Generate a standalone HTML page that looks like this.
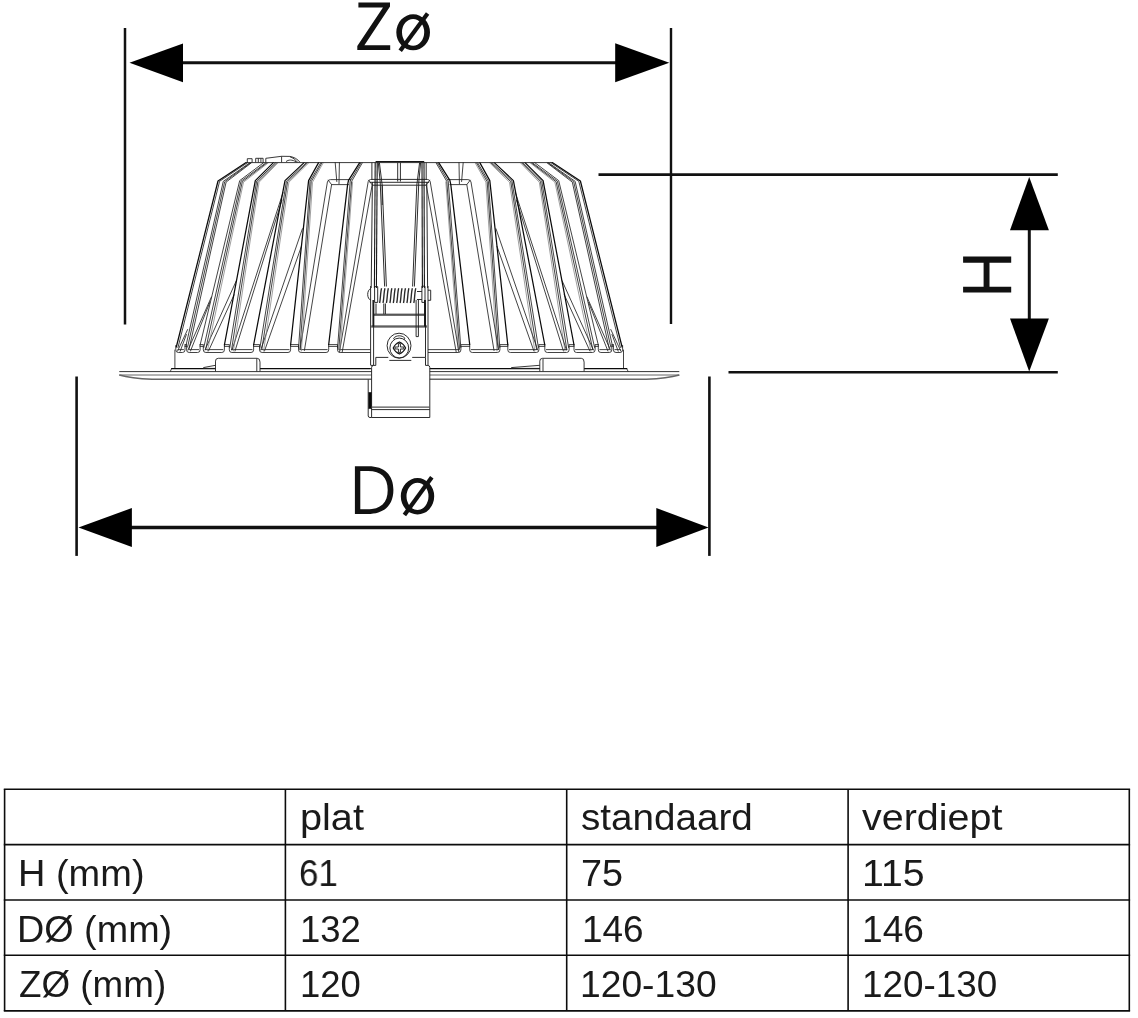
<!DOCTYPE html>
<html><head><meta charset="utf-8"><title>Afmetingen</title>
<style>
html,body{margin:0;padding:0;background:#fff;}
body{width:1138px;height:1018px;position:relative;overflow:hidden;font-family:"Liberation Sans",sans-serif;}
svg{position:absolute;left:0;top:0;}
.t{will-change:transform;position:absolute;font-size:36px;line-height:40px;height:40px;color:#1a1a1a;white-space:pre;transform-origin:0 0;}
</style></head><body>
<svg width="1138" height="1018" viewBox="0 0 1138 1018">
<rect width="1138" height="1018" fill="#fff"/>
<g id="flange" fill="none" stroke="#555" stroke-width="1.0">
<path d="M119.3,371.6 L679.3,371.6" stroke="#333" stroke-width="1.0"/>
<path d="M119.3,375.0 L679.3,375.0" stroke="#666" stroke-width="1.0"/>
<path d="M119.3,375.0 C126,377 134,378.6 152,379.3 L646.4,379.3 C664.4,378.6 672.4,377 679.3,375.0" stroke="#666" stroke-width="1.5"/>
</g>
<g id="lh" fill="none" stroke="#222" stroke-width="0.85" stroke-linejoin="round" stroke-linecap="round">
<path d="M247.6,162.6 L219.6,181.3 L178.0,347.5"/>
<path d="M249.6,162.9 L223.3,181.3 L186.0,345.5"/>
<path d="M250.4,162.9 L224.7,181.7 L187.6,347.0"/>
<path d="M251.3,162.9 L226.1,182.1 L189.2,348.5"/>
<path d="M263.7,162.6 L239.7,180.6 L200.1,345.0"/>
<path d="M265.8,162.9 L241.0,181.2 L203.8,347.5"/>
<path d="M267.0,162.9 L242.3,181.7 L205.6,349.5"/>
<path d="M275.4,162.9 L256.6,181.2 L229.8,347.5"/>
<path d="M276.7,162.9 L257.9,181.7 L231.6,349.5"/>
<path d="M306.2,162.9 L286.4,181.2 L260.0,347.5"/>
<path d="M307.4,162.9 L287.6,181.7 L261.8,349.5"/>
<path d="M320.7,162.9 L310.0,181.2 L298.6,347.5"/>
<path d="M321.9,162.9 L311.2,181.7 L300.0,349.5"/>
<path d="M361.0,162.9 L350.2,181.0 L337.6,347.5"/>
<path d="M362.3,162.9 L351.6,181.4 L338.8,349.5"/>
<path d="M187.6,329.5 L177.6,351.0"/>
<path d="M186.4,334.5 L180.2,351.2"/>
<path d="M211.4,297.0 L188.0,350.0"/>
<path d="M209.8,302.4 L190.5,351.0"/>
<path d="M236.3,280.8 L205.0,350.0"/>
<path d="M234.1,294.8 L208.5,351.0"/>
<path d="M283.0,192.7 L232.0,350.0"/>
<path d="M282.0,200.0 L235.0,351.0"/>
<path d="M302.4,228.8 L260.7,350.0"/>
<path d="M301.4,246.4 L264.5,351.0"/>
<path d="M350.6,179.6 L330.5,179.6 Q328.0,179.6 327.4,182.0 L300.0,349.5"/>
<path d="M348.5,184.6 L331.6,184.6 L304.4,350.5"/>
<path d="M328.2,180.2 L331.6,184.6"/>
<path d="M335.2,162.6 L336.8,181.5"/>
<path d="M339.4,162.6 L339.0,183.8"/>
<path d="M371.9,179.5 L370.6,179.5 Q368.6,179.8 368.2,181.6 L339.5,352.0"/>
<path d="M372.2,184.8 L342.2,352.0"/>
<path d="M368.6,180.2 L372.2,184.8"/>
<path d="M175.8,345.5 L175.8,349.9 Q175.8,352.5 178.4,352.5 L182.4,352.5 Q185.0,352.5 185.0,349.9 L185.0,345.0"/>
<path d="M178.0,349.6 L183.5,349.6"/>
<path d="M186.6,345.5 L186.6,349.9 Q186.6,352.5 189.2,352.5 L197.5,352.5 Q200.1,352.5 200.1,349.9 L200.1,345.0"/>
<path d="M188.8,349.6 L198.6,349.6"/>
<path d="M203.3,345.5 L203.3,349.9 Q203.3,352.5 205.9,352.5 L221.8,352.5 Q224.4,352.5 224.4,349.9 L224.4,345.0"/>
<path d="M205.5,349.6 L222.9,349.6"/>
<path d="M229.3,345.5 L229.3,349.9 Q229.3,352.5 231.9,352.5 L251.0,352.5 Q253.6,352.5 253.6,349.9 L253.6,345.0"/>
<path d="M231.5,349.6 L252.1,349.6"/>
<path d="M259.5,345.5 L259.5,349.9 Q259.5,352.5 262.1,352.5 L288.0,352.5 Q290.6,352.5 290.6,349.9 L290.6,345.0"/>
<path d="M261.7,349.6 L289.1,349.6"/>
<path d="M298.5,345.5 L298.5,349.9 Q298.5,352.5 301.1,352.5 L326.1,352.5 Q328.7,352.5 328.7,349.9 L328.7,345.0"/>
<path d="M300.7,349.6 L327.2,349.6"/>
<path d="M337.5,345.5 L337.5,349.9 Q337.5,352.5 340.1,352.5 L370.4,352.5"/>
<path d="M339.7,349.6 L370.4,349.6"/>
<path d="M185.0,344.6 L186.6,344.6"/>
<path d="M185.0,346.4 L186.6,346.4"/>
<path d="M200.1,344.6 L203.3,344.6"/>
<path d="M200.1,346.4 L203.3,346.4"/>
<path d="M224.4,344.6 L229.3,344.6"/>
<path d="M224.4,346.4 L229.3,346.4"/>
<path d="M253.6,344.6 L259.5,344.6"/>
<path d="M253.6,346.4 L259.5,346.4"/>
<path d="M290.6,344.6 L298.5,344.6"/>
<path d="M290.6,346.4 L298.5,346.4"/>
<path d="M328.7,344.6 L337.5,344.6"/>
<path d="M328.7,346.4 L337.5,346.4"/>
<path d="M174.9,350.0 L174.9,368.4"/>
<path d="M170.3,371.4 L171.7,368.5"/>
</g>
<g fill="none" stroke="#777" stroke-width="0.7" stroke-linecap="round">
<path d="M268.2,162.9 L243.5,182.2 L207.4,351.0"/>
<path d="M277.9,162.9 L259.1,182.2 L233.4,351.0"/>
<path d="M308.7,162.9 L288.9,182.2 L263.6,351.0"/>
<path d="M323.2,162.9 L312.5,182.2 L301.4,351.0"/>
<path d="M352.6,181.8 L340.0,351.0"/>
</g>
<g transform="translate(798.4,0) scale(-1,1)" fill="none" stroke="#777" stroke-width="0.7" stroke-linecap="round">
<path d="M268.2,162.9 L243.5,182.2 L207.4,351.0"/>
<path d="M277.9,162.9 L259.1,182.2 L233.4,351.0"/>
<path d="M308.7,162.9 L288.9,182.2 L263.6,351.0"/>
<path d="M323.2,162.9 L312.5,182.2 L301.4,351.0"/>
<path d="M352.6,181.8 L340.0,351.0"/>
</g>
<g id="lhd" fill="none" stroke="#0a0a0a" stroke-width="1.25" stroke-linejoin="round" stroke-linecap="round">
<path d="M246.1,162.6 L218.0,181.0 L176.3,347.0"/>
<path d="M273.4,162.6 L255.3,180.6 L224.4,345.0"/>
<path d="M304.1,162.6 L285.0,180.6 L253.6,345.0"/>
<path d="M318.6,162.6 L308.6,180.6 L290.6,345.0"/>
<path d="M359.7,162.6 L348.5,180.4 L347.6,184.6 L328.7,344.5"/>
<path d="M171.7,368.5 L370.4,368.5"/>
</g>
<g id="rh" transform="translate(798.4,0) scale(-1,1)" fill="none" stroke="#222" stroke-width="0.85" stroke-linejoin="round" stroke-linecap="round">
<path d="M247.6,162.6 L219.6,181.3 L178.0,347.5"/>
<path d="M249.6,162.9 L223.3,181.3 L186.0,345.5"/>
<path d="M250.4,162.9 L224.7,181.7 L187.6,347.0"/>
<path d="M251.3,162.9 L226.1,182.1 L189.2,348.5"/>
<path d="M263.7,162.6 L239.7,180.6 L200.1,345.0"/>
<path d="M265.8,162.9 L241.0,181.2 L203.8,347.5"/>
<path d="M267.0,162.9 L242.3,181.7 L205.6,349.5"/>
<path d="M275.4,162.9 L256.6,181.2 L229.8,347.5"/>
<path d="M276.7,162.9 L257.9,181.7 L231.6,349.5"/>
<path d="M306.2,162.9 L286.4,181.2 L260.0,347.5"/>
<path d="M307.4,162.9 L287.6,181.7 L261.8,349.5"/>
<path d="M320.7,162.9 L310.0,181.2 L298.6,347.5"/>
<path d="M321.9,162.9 L311.2,181.7 L300.0,349.5"/>
<path d="M361.0,162.9 L350.2,181.0 L337.6,347.5"/>
<path d="M362.3,162.9 L351.6,181.4 L338.8,349.5"/>
<path d="M187.6,329.5 L177.6,351.0"/>
<path d="M186.4,334.5 L180.2,351.2"/>
<path d="M211.4,297.0 L188.0,350.0"/>
<path d="M209.8,302.4 L190.5,351.0"/>
<path d="M236.3,280.8 L205.0,350.0"/>
<path d="M234.1,294.8 L208.5,351.0"/>
<path d="M283.0,192.7 L232.0,350.0"/>
<path d="M282.0,200.0 L235.0,351.0"/>
<path d="M302.4,228.8 L260.7,350.0"/>
<path d="M301.4,246.4 L264.5,351.0"/>
<path d="M350.6,179.6 L330.5,179.6 Q328.0,179.6 327.4,182.0 L300.0,349.5"/>
<path d="M348.5,184.6 L331.6,184.6 L304.4,350.5"/>
<path d="M328.2,180.2 L331.6,184.6"/>
<path d="M335.2,162.6 L336.8,181.5"/>
<path d="M339.4,162.6 L339.0,183.8"/>
<path d="M371.9,179.5 L370.6,179.5 Q368.6,179.8 368.2,181.6 L339.5,352.0"/>
<path d="M372.2,184.8 L342.2,352.0"/>
<path d="M368.6,180.2 L372.2,184.8"/>
<path d="M175.8,345.5 L175.8,349.9 Q175.8,352.5 178.4,352.5 L182.4,352.5 Q185.0,352.5 185.0,349.9 L185.0,345.0"/>
<path d="M178.0,349.6 L183.5,349.6"/>
<path d="M186.6,345.5 L186.6,349.9 Q186.6,352.5 189.2,352.5 L197.5,352.5 Q200.1,352.5 200.1,349.9 L200.1,345.0"/>
<path d="M188.8,349.6 L198.6,349.6"/>
<path d="M203.3,345.5 L203.3,349.9 Q203.3,352.5 205.9,352.5 L221.8,352.5 Q224.4,352.5 224.4,349.9 L224.4,345.0"/>
<path d="M205.5,349.6 L222.9,349.6"/>
<path d="M229.3,345.5 L229.3,349.9 Q229.3,352.5 231.9,352.5 L251.0,352.5 Q253.6,352.5 253.6,349.9 L253.6,345.0"/>
<path d="M231.5,349.6 L252.1,349.6"/>
<path d="M259.5,345.5 L259.5,349.9 Q259.5,352.5 262.1,352.5 L288.0,352.5 Q290.6,352.5 290.6,349.9 L290.6,345.0"/>
<path d="M261.7,349.6 L289.1,349.6"/>
<path d="M298.5,345.5 L298.5,349.9 Q298.5,352.5 301.1,352.5 L326.1,352.5 Q328.7,352.5 328.7,349.9 L328.7,345.0"/>
<path d="M300.7,349.6 L327.2,349.6"/>
<path d="M337.5,345.5 L337.5,349.9 Q337.5,352.5 340.1,352.5 L370.4,352.5"/>
<path d="M339.7,349.6 L370.4,349.6"/>
<path d="M185.0,344.6 L186.6,344.6"/>
<path d="M185.0,346.4 L186.6,346.4"/>
<path d="M200.1,344.6 L203.3,344.6"/>
<path d="M200.1,346.4 L203.3,346.4"/>
<path d="M224.4,344.6 L229.3,344.6"/>
<path d="M224.4,346.4 L229.3,346.4"/>
<path d="M253.6,344.6 L259.5,344.6"/>
<path d="M253.6,346.4 L259.5,346.4"/>
<path d="M290.6,344.6 L298.5,344.6"/>
<path d="M290.6,346.4 L298.5,346.4"/>
<path d="M328.7,344.6 L337.5,344.6"/>
<path d="M328.7,346.4 L337.5,346.4"/>
<path d="M174.9,350.0 L174.9,368.4"/>
<path d="M170.3,371.4 L171.7,368.5"/>
</g>
<g id="rhd" transform="translate(798.4,0) scale(-1,1)" fill="none" stroke="#0a0a0a" stroke-width="1.25" stroke-linejoin="round" stroke-linecap="round">
<path d="M246.1,162.6 L218.0,181.0 L176.3,347.0"/>
<path d="M273.4,162.6 L255.3,180.6 L224.4,345.0"/>
<path d="M304.1,162.6 L285.0,180.6 L253.6,345.0"/>
<path d="M318.6,162.6 L308.6,180.6 L290.6,345.0"/>
<path d="M359.7,162.6 L348.5,180.4 L347.6,184.6 L328.7,344.5"/>
<path d="M171.7,368.5 L370.4,368.5"/>
</g>
<path d="M215.5,371.0 L215.5,361.1 Q215.5,358.3 218.3,358.3 L257.2,358.3 Q260.0,358.3 260.0,362.1 L260.0,371.0 Z M539.8,371.0 L539.8,361.1 Q539.8,358.3 542.6,358.3 L581.3,358.3 Q584.1,358.3 584.1,362.1 L584.1,371.0 Z" fill="#fff" stroke="none"/>
<g id="misc" fill="none" stroke="#222" stroke-width="0.9" stroke-linejoin="round">
<path d="M246.1,162.6 L552.3,162.6"/>
<path d="M215.5,371.4 L215.5,361.1 Q215.5,358.3 218.3,358.3 L257.2,358.3 Q260.0,358.3 260.0,362.1 L260.0,371.4"/>
<path d="M256.8,358.6 L256.8,371.4"/>
<path d="M203.3,367.6 L215.5,365.3"/>
<path d="M203.3,368.4 L215.5,368.4"/>
<path d="M539.8,371.4 L539.8,361.1 Q539.8,358.3 542.6,358.3 L581.3,358.3 Q584.1,358.3 584.1,362.1 L584.1,371.4"/>
<path d="M543.0,358.6 L543.0,371.4"/>
<path d="M511.2,367.6 L539.8,365.3"/>
<path d="M511.2,368.4 L539.8,368.4"/>
<path d="M247.3,162.3 L247.3,158.7 L252.1,158.7 L252.1,162.3"/>
<path d="M255.7,162.3 L255.7,158.3 L263.1,158.3 L263.1,162.3 M258.3,158.3 L258.3,162.3 M260.9,158.3 L260.9,162.3"/>
<path d="M265.8,162.3 L265.8,158.3 L281.6,156.3 L289.6,156.4 C294,157 297.5,159 300.0,162.3 M281.6,156.3 L281.6,162.3"/>
<path d="M286,161.6 C288.5,159.6 292,159.4 296.5,162.0 M289.6,156.6 C293,157.8 295.5,159.6 297.6,162.3"/>
</g>
<g id="clipbg"><path d="M371.6,365.4 H429.8 V417.5 H371.6 Z" fill="#fff"/><path d="M370.6,286 H428.0 V365.1 H370.6 Z" fill="#fff"/></g>
<g id="centre" fill="none" stroke="#222" stroke-width="0.95" stroke-linejoin="round">
<path d="M371.9,162.6 L371.9,179.5"/>
<path d="M426.2,162.6 L426.2,179.5"/>
<path d="M371.9,179.4 L426.8,179.4"/>
<path d="M369.6,182.3 L429.0,182.3"/>
<path d="M372.2,185.2 L426.4,185.2"/>
<path d="M397.7,162.6 L397.7,181.5"/>
<path d="M400.4,162.6 L400.4,181.5"/>
<path d="M372.4,182.0 L371.2,288.0"/>
<path d="M378.3,162.6 L380.2,182.0 L384.6,286.5"/>
<path d="M379.4,162.6 L382.2,185.2 L386.4,286.5"/>
<path d="M382.2,185.2 L382.2,205.0"/>
<path d="M426.8,182.0 L427.6,288.0"/>
<path d="M420.6,162.6 L418.8,182.0 L414.4,286.5"/>
<path d="M419.6,162.6 L416.8,185.2 L412.6,286.5"/>
<path d="M370.6,286.0 L370.6,365.1"/>
<path d="M428.0,286.0 L428.0,365.1"/>
<path d="M373.6,303.0 L373.6,365.1"/>
<path d="M425.5,303.0 L425.5,357.3"/>
<path d="M373.6,314.2 L425.5,314.2"/>
<path d="M373.6,315.2 L425.5,315.2"/>
<path d="M371.2,326.0 L427.0,326.0"/>
<path d="M371.2,327.0 L427.0,327.0"/>
<path d="M376.0,303.5 L376.0,314.2"/>
<path d="M383.8,303.5 L383.8,314.2"/>
<path d="M385.4,303.5 L385.4,314.2"/>
<path d="M416.1,299.9 L416.1,336.6 L418.4,336.6 L418.4,299.9"/>
<path d="M373.6,365.4 L375.8,365.4 L375.8,357.4 L388.3,357.4"/>
<path d="M412.2,357.4 L425.5,357.4 L425.5,365.4"/>
<path d="M389.3,360.4 L411.3,360.4"/>
<path d="M371.0,288.6 C366.6,289.6 366.6,299.2 371.0,300.2"/>
<path d="M428.0,290.2 L430.7,290.2 L430.7,300.3 L428.0,300.3"/>
<path d="M374.6,286.6 L377.7,286.6 L377.7,302.4 L374.6,302.4 Z"/>
<path d="M421.9,286.2 L425.0,286.2 L425.0,302.4 L421.9,302.4 Z"/>
<path d="M417.0,291.5 L421.9,291.5"/>
<path d="M417.0,299.5 L421.9,299.5"/>
<path d="M399.05,345.7 m-11.95,0 a11.95,12.5 0 1,0 23.9,0 a11.95,12.5 0 1,0 -23.9,0"/>
<path d="M399.3,348.0 m-9.4,0 a9.4,9.9 0 1,0 18.8,0 a9.4,9.9 0 1,0 -18.8,0"/>
<path d="M393.6,338.2 C396.5,335.0 402.0,335.0 404.9,338.2"/>
<path d="M393.6,338.2 L394.8,340.0 M404.9,338.2 L403.8,340.0"/>
<path d="M398.4,343.6 L400.4,343.6 L400.4,347.0 L403.8,347.0 L403.8,349.0 L400.4,349.0 L400.4,352.4 L398.4,352.4 L398.4,349.0 L395.0,349.0 L395.0,347.0 L398.4,347.0 Z"/>
<path d="M373.6,365.4 Q371.6,365.6 371.6,367.4 L371.6,417.5 L429.8,417.5 L429.8,367.4 Q429.8,365.6 428.0,365.4"/>
<path d="M371.6,409.6 L429.8,409.6"/>
<path d="M368.2,379.5 L368.2,416.0 Q368.4,417.5 370.0,417.5 L371.6,417.5"/>
<path d="M370.6,365.4 L373.6,365.4"/>
<path d="M425.5,365.4 L428.0,365.4"/>
</g>
<g id="centred" fill="none" stroke="#151515" stroke-width="1.1">
<path d="M375.6,161.6 L424.2,161.6"/>
<path d="M375.2,162.6 L374.4,288.0"/>
<path d="M377.2,162.6 L376.4,288.0"/>
<path d="M424.0,162.6 L424.4,288.0"/>
<path d="M422.0,162.6 L422.4,288.0"/>
<path d="M373.0,299.9 L373.0,326.4"/>
<path d="M373.7,299.9 L373.7,326.4"/>
<path d="M424.6,299.9 L424.6,326.4"/>
<path d="M425.3,299.9 L425.3,326.4"/>
<path d="M399.4,341.9 C402.0,343.0 404.4,345.4 405.6,348.0 C404.4,350.6 402.0,353.0 399.4,354.1 C396.8,353.0 394.4,350.6 393.2,348.0 C394.4,345.4 396.8,343.0 399.4,341.9 Z"/>
<path d="M368.4,392.2 H371.6 V408.8 H368.4 Z" fill="#0a0a0a" stroke="none"/>
<path d="M371.6,407.2 H429.8" stroke="#555" stroke-width="1.2"/>
<path d="M381.6,288.2 C380.4,292 380.6,299 379.6,303.0 M385.0,288.2 C383.8,292 384.0,299 383.0,303.0 M388.4,288.2 C387.2,292 387.4,299 386.4,303.0 M391.9,288.2 C390.7,292 390.9,299 389.9,303.0 M395.3,288.2 C394.1,292 394.3,299 393.3,303.0 M398.7,288.2 C397.5,292 397.7,299 396.7,303.0 M402.1,288.2 C400.9,292 401.1,299 400.1,303.0 M405.5,288.2 C404.3,292 404.5,299 403.5,303.0 M408.9,288.2 C407.7,292 407.9,299 406.9,303.0 M412.4,288.2 C411.2,292 411.4,299 410.4,303.0 M415.8,288.2 C414.6,292 414.8,299 413.8,303.0" stroke-width="1.35" stroke="#2a2a2a"/>
</g>

<g stroke="#111" fill="none">
<path d="M125.0,28.1 V324.5" stroke-width="2.5"/>
<path d="M671.0,28.1 V324.0" stroke-width="2.4"/>
<path d="M180,62.7 H618" stroke-width="3.1"/>
<path d="M76.6,376.5 V555.9" stroke-width="2.6"/>
<path d="M709.4,376.5 V555.9" stroke-width="2.6"/>
<path d="M130,527.5 H658" stroke-width="3.3"/>
<path d="M598.5,174.6 H1057.8" stroke-width="2.6"/>
<path d="M728.5,372.3 H1057.8" stroke-width="2.6"/>
<path d="M1029.3,228 V320" stroke-width="3.0"/>
</g>
<g fill="#000">
<path d="M129.5,62.7 L183,43.4 L183,82.2 Z"/>
<path d="M669.3,62.7 L615.2,43.2 L615.2,82.2 Z"/>
<path d="M78.5,527.4 L131.9,508 L131.9,547 Z"/>
<path d="M708.5,527.4 L656.3,508 L656.3,547 Z"/>
<path d="M1029.2,177.0 L1010,230.2 L1048.9,230.2 Z"/>
<path d="M1029.2,371.6 L1010,318.4 L1048.9,318.4 Z"/>
</g>


<!-- Z -->
<path d="M358.4,2.6 L390.0,2.6 L390.0,6.6 L364.4,45.2 L390.2,45.2 L390.2,50.0 L357.3,50.0 L357.3,46.0 L383.0,7.4 L358.4,7.4 Z" fill="#111"/>
<path d="M396.3,32.3 a16.85,18.0 0 1,0 33.7,0 a16.85,18.0 0 1,0 -33.7,0 Z M402.0,32.3 a11.1,13.4 0 1,0 22.2,0 a11.1,13.4 0 1,0 -22.2,0 Z" fill="#111" fill-rule="evenodd"/>
<path d="M400.2,50.8 L427.6,13.6" stroke="#111" stroke-width="4.2" fill="none"/>
<!-- D -->
<path d="M354.9,466.3 L368.5,466.3 C384.5,466.3 393.4,475.2 393.4,489.7 C393.4,505.2 384.3,514.0 367.5,514.0 L354.9,514.0 Z M360.3,471.0 L360.3,509.3 L367.0,509.3 C381.0,509.3 387.7,502.6 387.7,489.9 C387.7,477.6 381.2,471.0 368.0,471.0 Z" fill="#111" fill-rule="evenodd"/>
<path d="M400.8,496.3 a16.7,18.2 0 1,0 33.4,0 a16.7,18.2 0 1,0 -33.4,0 Z M406.5,496.3 a11.0,13.6 0 1,0 22.0,0 a11.0,13.6 0 1,0 -22.0,0 Z" fill="#111" fill-rule="evenodd"/>
<path d="M404.4,515.0 L431.8,477.2" stroke="#111" stroke-width="4.2" fill="none"/>
<!-- H rotated -->
<path d="M963.1,256.5 H1011.2 V262.7 H989.5 V286.7 H1011.2 V292.6 H963.1 V286.7 H983.6 V262.7 H963.1 Z" fill="#111"/>

<g stroke="#0c0c0c" stroke-width="1.6" fill="none"><path d="M3.8,789.2 H1130.1"/><path d="M3.8,844.6 H1130.1"/><path d="M3.8,900.0 H1130.1"/><path d="M3.8,955.3 H1130.1"/><path d="M3.8,1010.9 H1130.1"/><path d="M4.6,789.2 V1010.9"/><path d="M285.4,789.2 V1010.9"/><path d="M566.7,789.2 V1010.9"/><path d="M848.1,789.2 V1010.9"/><path d="M1129.3,789.2 V1010.9"/></g>
</svg>
<span class="t" id="t0" style="left:299.54px;top:798.4px;transform:scaleX(1.1018)">plat</span>
<span class="t" id="t1" style="left:580.68px;top:798.4px;transform:scaleX(1.0731)">standaard</span>
<span class="t" id="t2" style="left:861.53px;top:798.4px;transform:scaleX(1.0961)">verdiept</span>
<span class="t" id="t3" style="left:18.04px;top:854.4px;transform:scaleX(1.0548)">H (mm)</span>
<span class="t" id="t4" style="left:299.06px;top:854.4px;transform:scaleX(0.9694)">61</span>
<span class="t" id="t5" style="left:580.72px;top:854.4px;transform:scaleX(1.0486)">75</span>
<span class="t" id="t6" style="left:862.15px;top:854.4px;transform:scaleX(1.0887)">115</span>
<span class="t" id="t7" style="left:17.03px;top:909.7px;transform:scaleX(1.0486)">DØ (mm)</span>
<span class="t" id="t8" style="left:300.36px;top:909.7px;transform:scaleX(1.0125)">132</span>
<span class="t" id="t9" style="left:581.53px;top:909.7px;transform:scaleX(1.0250)">146</span>
<span class="t" id="t10" style="left:862.32px;top:909.7px;transform:scaleX(1.0304)">146</span>
<span class="t" id="t11" style="left:18.57px;top:965.0px;transform:scaleX(1.0227)">ZØ (mm)</span>
<span class="t" id="t12" style="left:300.36px;top:965.0px;transform:scaleX(1.0125)">120</span>
<span class="t" id="t13" style="left:580.29px;top:965.0px;transform:scaleX(1.0339)">120-130</span>
<span class="t" id="t14" style="left:862.33px;top:965.0px;transform:scaleX(1.0234)">120-130</span>

</body></html>
